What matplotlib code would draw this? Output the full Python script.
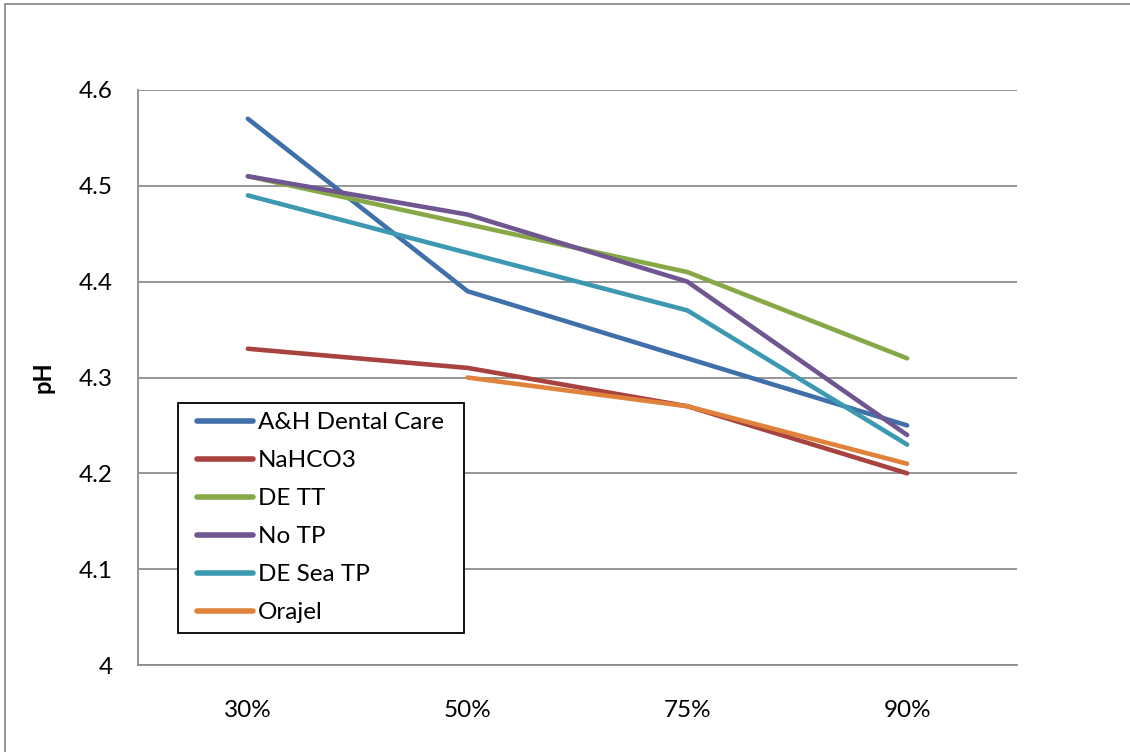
import numpy as np
import matplotlib
matplotlib.use("Agg")
import matplotlib.pyplot as plt
from matplotlib.patches import Rectangle

# data
categories = ["30%", "50%", "75%", "90%"]
ah_dental = [4.57, 4.39, 4.32, 4.25]
nahco3 = [4.33, 4.31, 4.27, 4.20]
de_tt = [4.51, 4.46, 4.41, 4.32]
no_tp = [4.51, 4.47, 4.40, 4.24]
de_sea_tp = [4.49, 4.43, 4.37, 4.23]
orajel = [np.nan, 4.30, 4.27, 4.21]

series_names = ["A&H Dental Care", "NaHCO3", "DE TT", "No TP", "DE Sea TP", "Orajel"]
series_vals = [ah_dental, nahco3, de_tt, no_tp, de_sea_tp, orajel]
colors = ["#4070AA", "#A7423F", "#87A847", "#6F5690", "#3C99B1", "#E0823B"]
yticks = [4.0, 4.1, 4.2, 4.3, 4.4, 4.5, 4.6]
ytick_labels = ["4", "4.1", "4.2", "4.3", "4.4", "4.5", "4.6"]

plt.rcParams['font.family'] = ['Lato', 'DejaVu Sans']

W, H = 1130, 752
fig = plt.figure(figsize=(W / 100, H / 100), dpi=100)
ax = fig.add_axes([138 / W, 1 - 665 / H, 879 / W, 575 / H])

x = np.arange(len(categories))
for name, vals, c in zip(series_names, series_vals, colors):
    ax.plot(x, vals, color=c, linewidth=3.3, solid_capstyle='round',
            solid_joinstyle='round', label=name)

ax.set_xlim(-0.5, len(categories) - 0.5)
ax.set_ylim(4.0, 4.6)
ax.set_xticks(x)
ax.set_xticklabels(categories)
ax.set_yticks(yticks)
ax.set_yticklabels(ytick_labels)
ax.tick_params(axis='both', length=0, labelsize=17.5)
ax.tick_params(axis='x', pad=25)
ax.tick_params(axis='y', pad=18)
ax.yaxis.grid(True, color='#8c8c8c', linewidth=1.3)
ax.set_axisbelow(True)
for s in ['top', 'right']:
    ax.spines[s].set_visible(False)
for s in ['left', 'bottom']:
    ax.spines[s].set_color('#8c8c8c')
    ax.spines[s].set_linewidth(1.3)

ax.set_ylabel("pH", fontsize=17, fontweight='bold', labelpad=18)

# legend box drawn separately so its size matches the original
fig.patches.append(Rectangle((178 / W, 1 - 633 / H), (464 - 178) / W, (633 - 403) / H,
                             transform=fig.transFigure, facecolor='white',
                             edgecolor='black', linewidth=1.3, zorder=4))
leg = fig.legend(*ax.get_legend_handles_labels(), loc='upper left',
                 bbox_to_anchor=(197 / W, 1 - 412 / H),
                 fontsize=17.5, frameon=False, handlelength=2.3,
                 handletextpad=0.2, labelspacing=0.7, borderpad=0,
                 borderaxespad=0)
leg.set_zorder(5)
for h in leg.get_lines():
    h.set_linewidth(4)

# outer chart border (right and bottom edges fall outside the image)
fig.patches.append(Rectangle((5 / W, -0.2), 1.2, 1 - 4 / H + 0.2,
                             transform=fig.transFigure, fill=False,
                             edgecolor='#8c8c8c', linewidth=1.3))

fig.savefig("out.png", dpi=100)
